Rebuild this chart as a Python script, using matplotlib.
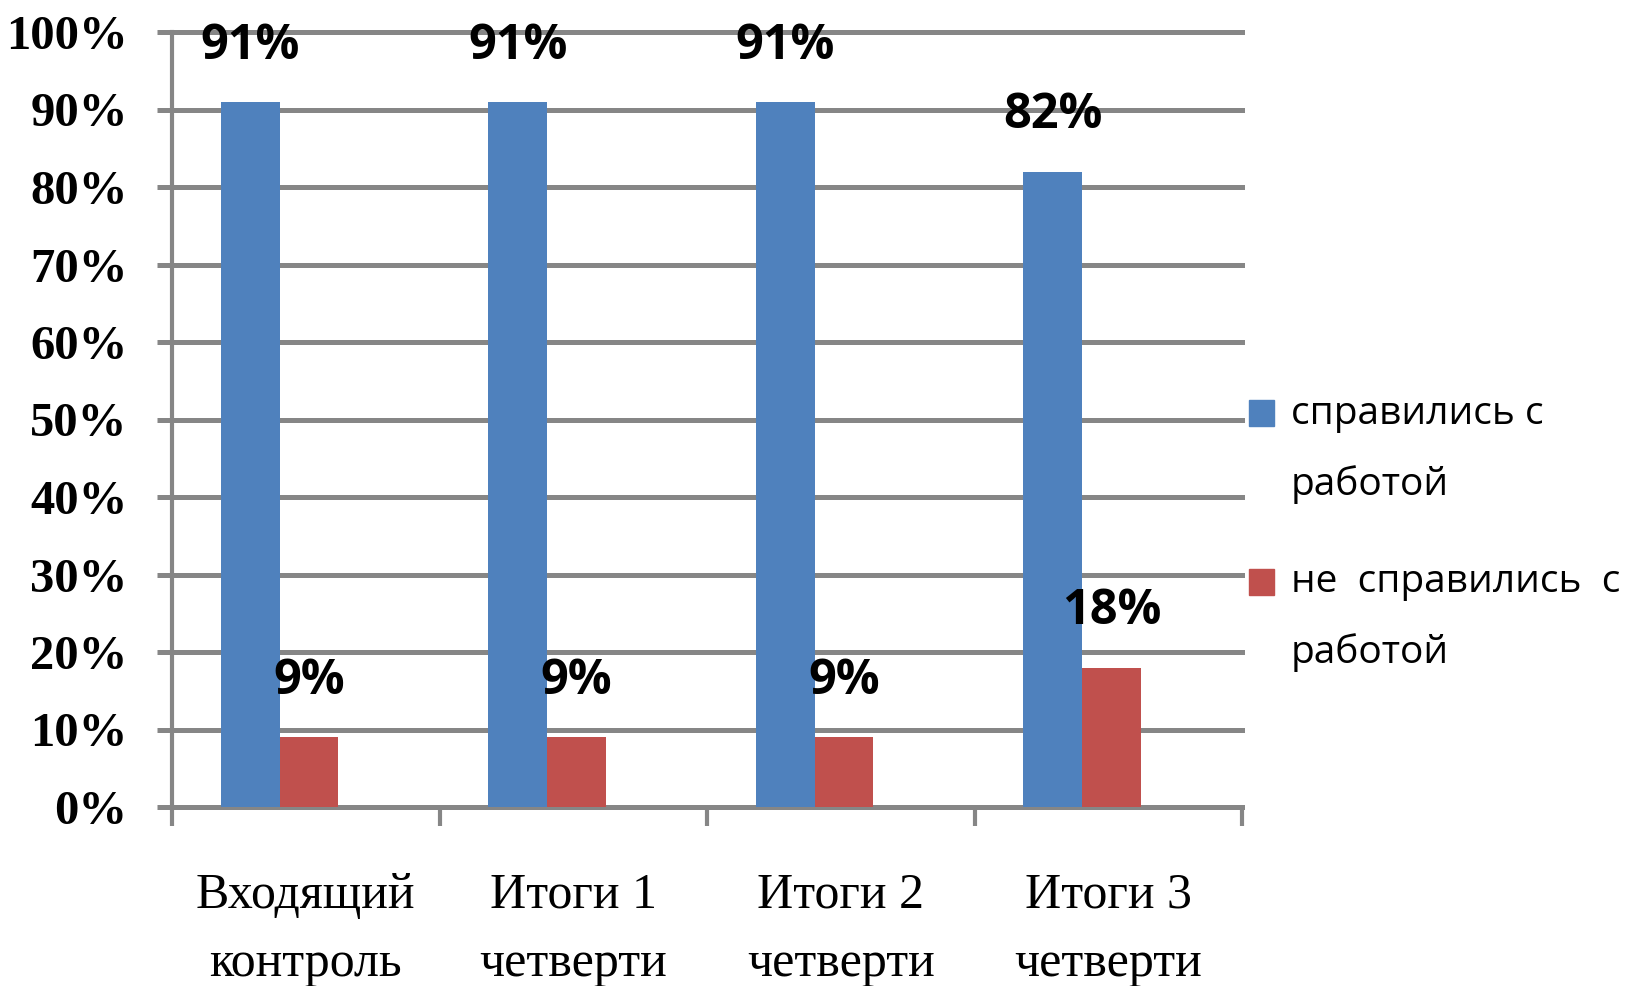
import numpy as np
import matplotlib
matplotlib.use("Agg")
import matplotlib.pyplot as plt
from matplotlib.patches import Rectangle

categories = ['Входящий\nконтроль', 'Итоги 1\nчетверти', 'Итоги 2\nчетверти', 'Итоги 3\nчетверти']
passed = [91, 91, 91, 82]
failed = [9, 9, 9, 18]
series_names = ['справились с\nработой', 'не  справились  с\nработой']
y_ticks = [0, 10, 20, 30, 40, 50, 60, 70, 80, 90, 100]

BLUE = '#4F81BD'
RED = '#C0504D'
GRID = '#868686'

W, H = 1650, 986
fig = plt.figure(figsize=(W / 100, H / 100), dpi=100)
ax = fig.add_axes([172 / W, 179 / H, 1070 / W, 775 / H])

x = np.arange(len(categories))
w = 0.219
off = -0.098
b1 = ax.bar(x + off - w / 2, passed, width=w, color=BLUE, zorder=3)
b2 = ax.bar(x + off + w / 2, failed, width=w, color=RED, zorder=3)

label_font = dict(family=['Open Sans', 'DejaVu Sans'], fontsize=35, fontweight='bold', color='black')
for bars, vals in ((b1, passed), (b2, failed)):
    for r, v in zip(bars, vals):
        ax.annotate(f'{v}%', (r.get_x() + r.get_width() / 2, v), xytext=(0, 40),
                    textcoords='offset points', ha='center', va='center',
                    zorder=5, annotation_clip=False, **label_font)

ax.set_xlim(-0.5, len(categories) - 0.5)
ax.set_ylim(0, 100)
ax.set_yticks(y_ticks)
ax.set_yticklabels([f'{v}%' for v in y_ticks], family=['Liberation Serif', 'DejaVu Serif'],
                   fontsize=35, fontweight='bold')
ax.tick_params(axis='y', length=11, width=3.6, color=GRID, pad=21)

ax.set_xticks(np.arange(-0.5, len(categories)), [''] * (len(categories) + 1))
ax.tick_params(axis='x', which='major', length=14, width=3, color=GRID)
ax.set_xticks(x, categories, minor=True)
ax.tick_params(axis='x', which='minor', length=0, pad=47)
for t in ax.get_xticklabels(minor=True):
    t.set_family(['Liberation Serif', 'DejaVu Serif'])
    t.set_fontsize(36)
    t.set_linespacing(1.6)

ax.grid(axis='y', color=GRID, linewidth=3.6, zorder=0)
ax.set_axisbelow(True)
for gl in ax.get_ygridlines():
    gl.set_clip_on(False)

for s in ('top', 'right', 'bottom'):
    ax.spines[s].set_visible(False)
ax.spines['left'].set_color(GRID)
ax.spines['left'].set_linewidth(3)

# legend
leg_font = dict(family=['Open Sans', 'DejaVu Sans'], fontsize=28, color='black')
leg_pos = [(413, 414), (582, 582)]
for (sq_c, txt_c), name, col in zip(leg_pos, series_names, (BLUE, RED)):
    fig.add_artist(Rectangle((1249 / W, 1 - (sq_c + 13) / H), 25 / W, 26 / H,
                             transform=fig.transFigure, color=col))
    for i, line in enumerate(name.split('\n')):
        fig.text(1291 / W, 1 - (txt_c + 71 * i) / H, line, ha='left', va='center', **leg_font)

fig.savefig('out.png', dpi=100)
